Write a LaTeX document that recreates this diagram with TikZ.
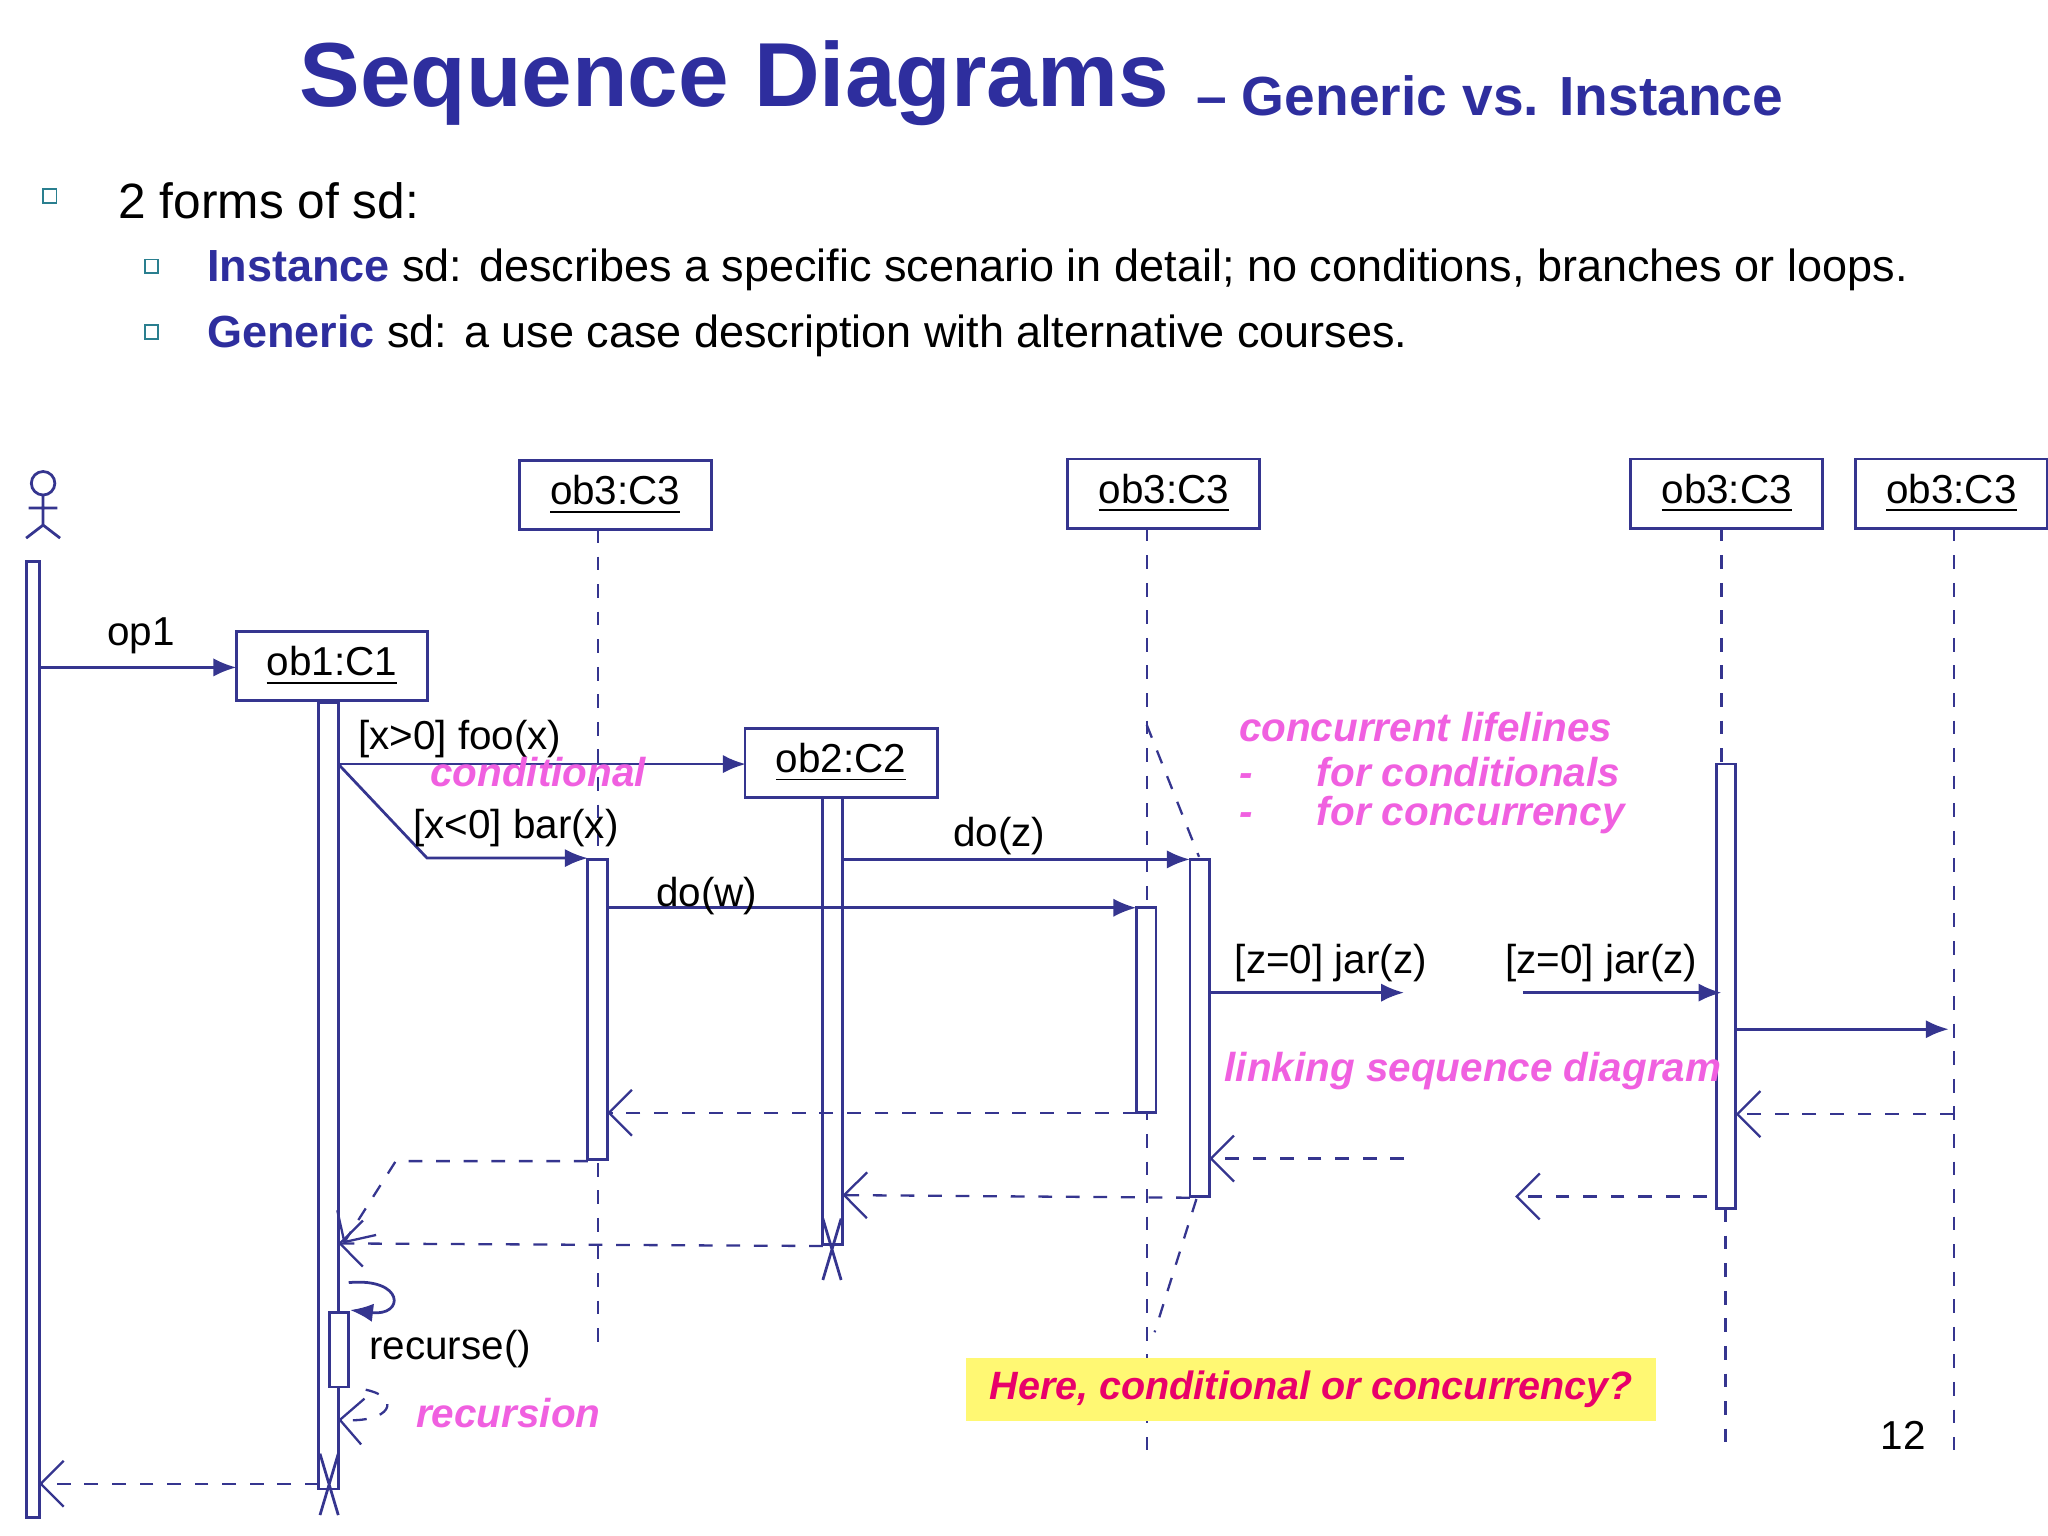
\documentclass[tikz,border=0pt]{standalone}
\usepackage{fontspec}
\setmainfont{Liberation Sans}
\usetikzlibrary{arrows.meta}
\definecolor{tblue}{HTML}{2E2E9E}
\definecolor{ln}{HTML}{35358F}
\definecolor{mag}{HTML}{F060E0}
\definecolor{hot}{HTML}{E8006A}
\definecolor{teal}{HTML}{2A7F8F}
\begin{document}
\begin{tikzpicture}[x=0.01cm,y=-0.01cm,
  obj/.style={draw=ln,fill=white,line width=0.6pt,minimum width=1.47cm,minimum height=0.53cm,inner sep=0pt,font=\fontsize{8.8}{10}\selectfont},
  act/.style={draw=ln,fill=white,line width=0.6pt},
  life/.style={draw=ln,dashed,line width=0.5pt},
  call/.style={draw=ln,line width=0.6pt,-{Latex[length=5pt,width=4pt]}},
  ret/.style={draw=ln,dashed,line width=0.5pt,-{Straight Barb[length=5pt,width=10pt]}},
  lab/.style={font=\fontsize{8.8}{10}\selectfont,inner sep=0pt},
  mt/.style={font=\fontsize{8.8}{10}\selectfont\bfseries\itshape,text=mag,inner sep=0pt},
  bul/.style={draw=teal,line width=0.4pt,minimum size=3pt,inner sep=0pt}]
\useasboundingbox (0,0) rectangle (1568,1176);
% title
\node[text=tblue,font=\fontsize{19.8}{22}\selectfont\bfseries,inner sep=0pt] (t1) at (562,64) {Sequence Diagrams};
\node[text=tblue,font=\fontsize{12}{14}\selectfont\bfseries,anchor=west,inner sep=0pt] (t2) at (915,73) {-- Generic vs. Instance};
% bullets
\node[bul] (b0) at (38,150) {};
\node[anchor=west,font=\fontsize{10.8}{12}\selectfont,inner sep=0pt] (l0) at (90,154) {2 forms of sd:};
\node[bul] (b1) at (116,204) {};
\node[anchor=west,font=\fontsize{9.8}{12}\selectfont,inner sep=0pt] (l1) at (158,207) {\textcolor{tblue}{\bfseries Instance} sd: describes a specific scenario in detail; no conditions, branches or loops.};
\node[bul] (b2) at (116,254) {};
\node[anchor=west,font=\fontsize{9.8}{12}\selectfont,inner sep=0pt] (l2) at (158,257) {\textcolor{tblue}{\bfseries Generic} sd: a use case description with alternative courses.};
% actor
\draw[ln,line width=0.6pt] (33,370) circle (9) (33,379)--(33,402) (22,389)--(44,389) (33,402)--(20,412) (33,402)--(46,412);
\draw[act] (20,430) rectangle (30,1162);
% objects
\node[obj,minimum width=1.46cm] (o1) at (254,510) {\underline{ob1:C1}};
\node[obj] (a) at (471,379) {\underline{ob3:C3}};
\node[obj] (o2) at (644,584) {\underline{ob2:C2}};
\node[obj] (b) at (891,378) {\underline{ob3:C3}};
\node[obj] (c) at (1322,378) {\underline{ob3:C3}};
\node[obj] (d) at (1494,378) {\underline{ob3:C3}};
% lifelines
\draw[life] (458,405)--(458,1030);
\draw[life] (878,404)--(878,1110);
\draw[life] (1318,404)--(1318,585) (1321,925)--(1321,1110);
\draw[life] (1496,404)--(1496,1110);
% activations
\draw[act] (244,538) rectangle (259,1140);
\draw[act] (252,1005) rectangle (267,1062);
\draw[act] (450,658) rectangle (465,888);
\draw[act] (630,611) rectangle (645,953);
\draw[act] (870,695) rectangle (885,852);
\draw[act] (911,658) rectangle (926,916);
\draw[act] (1314,585) rectangle (1329,925);
% destroy
\draw[ln,line width=0.6pt] (630,933)--(644,980) (644,933)--(630,980);
\draw[ln,line width=0.6pt] (245,1113)--(259,1160) (259,1113)--(245,1160);
% messages
\coordinate (p1) at (30,511); \coordinate (p2) at (181,511);
\draw[call] (p1)--(p2);
\node[lab] (op1) at (108,487) {op1};
\coordinate (f1) at (259,585); \coordinate (f2) at (571,585);
\draw[call] (f1)--(f2);
\node[lab] (foo) at (352,566) {[x>0] foo(x)};
\node[mt] (cond) at (412,591) {conditional};
\coordinate (bk) at (327,657); \coordinate (b3) at (450,657);
\draw[call] (f1)--(bk)--(b3);
\node[lab] (bar) at (395,634) {[x<0] bar(x)};
\coordinate (z1) at (645,658); \coordinate (z2) at (911,658);
\draw[call] (z1)--(z2);
\node[lab] (doz) at (765,640) {do(z)};
\coordinate (w1) at (465,695); \coordinate (w2) at (870,695);
\draw[call] (w1)--(w2);
\node[lab] (dow) at (541,686) {do(w)};
\coordinate (j1) at (926,760); \coordinate (j2) at (1075,760);
\draw[call] (j1)--(j2);
\node[lab] (jar1) at (1019,737) {[z=0] jar(z)};
\coordinate (k1) at (1166,760); \coordinate (k2) at (1318,760);
\draw[call] (k1)--(k2);
\node[lab] (jar2) at (1226,737) {[z=0] jar(z)};
\coordinate (m1) at (1329,788); \coordinate (m2) at (1492,788);
\draw[call] (m1)--(m2);
% concurrency dashes
\draw[life] (878,555)--(918,656);
\draw[life] (916,918)--(884,1020);
% returns
\coordinate (r1) at (1496,853); \coordinate (r2) at (1329,853);
\draw[ret] (r1)--(r2);
\coordinate (r3) at (1307,916); \coordinate (r4) at (1160,916);
\draw[ret] (r3)--(r4);
\coordinate (r5) at (1075,887); \coordinate (r6) at (926,887);
\draw[ret] (r5)--(r6);
\coordinate (r7) at (870,852); \coordinate (r8) at (465,852);
\draw[ret] (r7)--(r8);
\coordinate (r9) at (911,917); \coordinate (r10) at (645,915);
\draw[ret] (r9)--(r10);
\coordinate (s1) at (450,889); \coordinate (s2) at (303,889); \coordinate (s3) at (263,952);
\draw[ret] (s1)--(s2)--(s3);
\coordinate (q1) at (630,954); \coordinate (q2) at (259,952);
\draw[ret] (q1)--(q2);
\coordinate (u1) at (244,1136); \coordinate (u2) at (30,1136);
\draw[ret] (u1)--(u2);
% recursion
\coordinate (rc1) at (267,982); \coordinate (rc2) at (268,1003);
\draw[draw=ln,line width=0.6pt,-{Latex[length=5pt,width=4pt]}] (rc1) .. controls (310,978) and (310,1008) .. (rc2);
\coordinate (rr1) at (280,1064); \coordinate (rr2) at (259,1087);
\draw[ret] (rr1) .. controls (308,1070) and (300,1090) .. (rr2);
\node[lab,anchor=west] (rec) at (282,1033) {recurse()};
\node[mt,anchor=west] (recn) at (318,1082) {recursion};
% magenta notes
\node[mt,anchor=west] (n1) at (948,557) {concurrent lifelines};
\node[mt,anchor=west] (n2) at (948,591) {-\hspace{14pt}for conditionals};
\node[mt,anchor=west] (n3) at (948,624) {-\hspace{14pt}for concurrency};
\node[mt,anchor=west] (n4) at (937,820) {linking sequence diagram};
\node[fill=yellow!55,inner sep=0pt,font=\fontsize{8.6}{10}\selectfont\bfseries\itshape,text=hot,minimum width=5.28cm,minimum height=0.48cm] (hq) at (1004,1064) {Here, conditional or concurrency?};
\node[lab] (pg) at (1457,1099) {12};
\end{tikzpicture}
\end{document}
